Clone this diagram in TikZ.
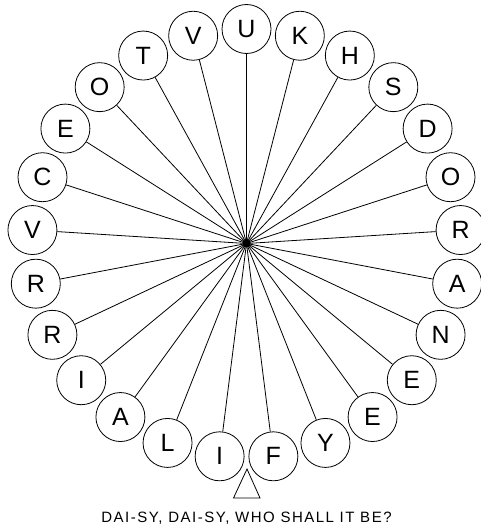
\documentclass[tikz,border=0pt]{standalone}
\usepackage{fontspec}
\setmainfont{Liberation Sans}
\newfontfamily\capfont[LetterSpace=10]{Liberation Sans}
\usetikzlibrary{calc}

\tikzset{
  petal/.style={draw,circle,line width=0.8pt,minimum size=49pt,inner sep=0pt,font=\fontsize{25}{25}\selectfont},
  spoke/.style={line width=0.8pt},
  hubdot/.style={circle,fill=black,inner sep=0pt,minimum size=8pt},
}

\begin{document}
\begin{tikzpicture}[x=1pt,y=-1pt]
\useasboundingbox (0,0) rectangle (480,527);
\node[hubdot] (hub) at (246.5,243.5) {};
% petals, clockwise from the top
\foreach \l [count=\i from 0] in {U,K,H,S,D,O,R,A,N,E,E,Y,F,I,L,A,I,R,R,V,C,E,O,T,V}{
  \node[petal] (p\i) at ($(hub)+({14.4*\i-90}:214.5)$) {\l};
  \draw[spoke] (hub.center) -- (p\i);
}
% pointer and caption
\draw[line width=0.8pt] (247,469) -- (233.5,498) -- (260,498) -- cycle;
\node[anchor=base,inner sep=0pt,font=\capfont\fontsize{15}{15}\selectfont] (caption) at (246.5,522) {DAI-SY, DAI-SY, WHO SHALL IT BE?};
\end{tikzpicture}
\end{document}
